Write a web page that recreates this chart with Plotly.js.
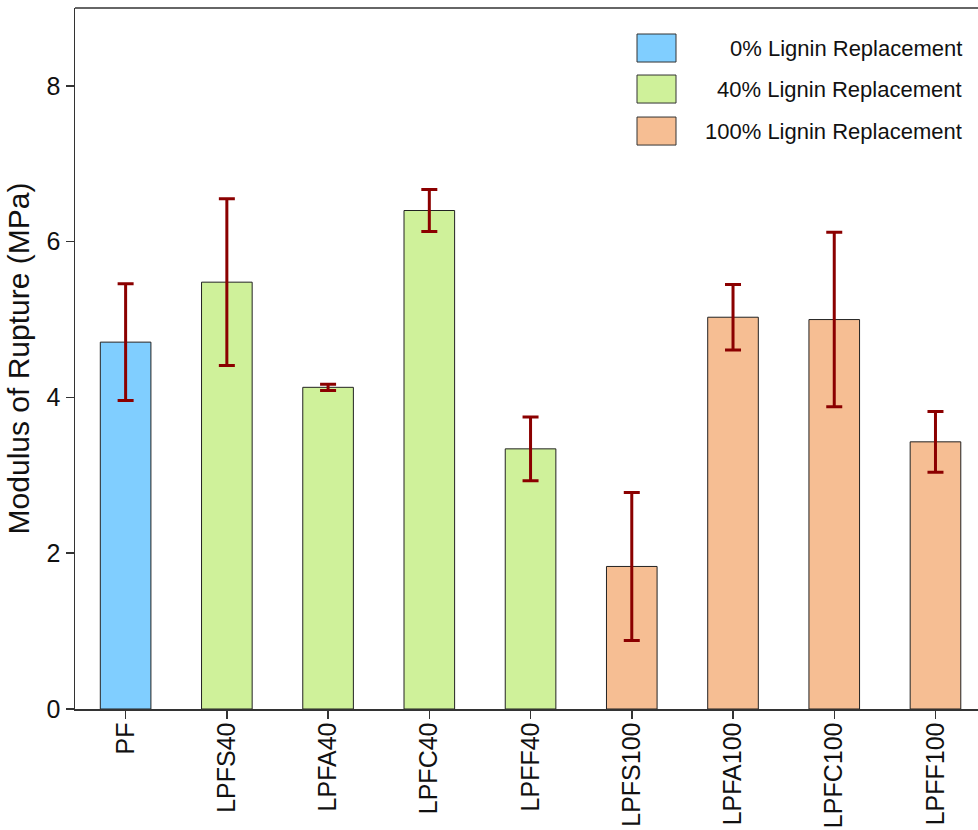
<!DOCTYPE html>
<html>
<head>
<meta charset="utf-8">
<script src="https://cdn.plot.ly/plotly-3.0.1.min.js"></script>
<style>html,body{margin:0;padding:0;background:#fff;}#chart{width:978px;height:830px;}</style>
</head>
<body>
<div id="chart"></div>
<script>
// Data
const categories = ["PF","LPFS40","LPFA40","LPFC40","LPFF40","LPFS100","LPFA100","LPFC100","LPFF100"];
const groupNames = ["0% Lignin Replacement","40% Lignin Replacement","100% Lignin Replacement"];
const pfCats = ["PF"];
const pfValues = [4.71];
const pfErrors = [0.75];
const lig40Cats = ["LPFS40","LPFA40","LPFC40","LPFF40"];
const lig40Values = [5.48, 4.13, 6.40, 3.34];
const lig40Errors = [1.07, 0.04, 0.27, 0.41];
const lig100Cats = ["LPFS100","LPFA100","LPFC100","LPFF100"];
const lig100Values = [1.83, 5.03, 5.00, 3.43];
const lig100Errors = [0.95, 0.42, 1.12, 0.39];
const yTicks = [0, 2, 4, 6, 8];

const colors = ["#80CEFF", "#CFF19A", "#F6BE93"];
const font = "Liberation Sans, Arial, sans-serif";

function barTrace(x, y, err, color, name) {
  return {
    type: "bar", x: x, y: y, name: name, width: 0.5,
    marker: {color: color, line: {color: "#222", width: 1}},
    error_y: {type: "data", array: err, visible: true, color: "#8B0000", thickness: 3, width: 8},
    showlegend: false
  };
}

const traces = [
  barTrace(pfCats, pfValues, pfErrors, colors[0], groupNames[0]),
  barTrace(lig40Cats, lig40Values, lig40Errors, colors[1], groupNames[1]),
  barTrace(lig100Cats, lig100Values, lig100Errors, colors[2], groupNames[2])
];

// custom legend (boxes + right-aligned text)
const shapes = [];
const annotations = [];
const boxTops = [34, 75, 117];
const plotL = 75, plotW = 903, plotB = 708.7, plotH = 700.7;
function px2x(p){ return (p - plotL) / plotW; }
function px2y(p){ return (plotB - p) / plotH; }
groupNames.forEach((g, i) => {
  const top = boxTops[i];
  shapes.push({type: "rect", xref: "paper", yref: "paper",
    x0: px2x(637), x1: px2x(676), y0: px2y(top + 28), y1: px2y(top),
    fillcolor: colors[i], line: {color: "#333", width: 1}});
  annotations.push({xref: "paper", yref: "paper", x: px2x(964), y: px2y(top + 14),
    xanchor: "right", yanchor: "middle", showarrow: false, text: g,
    font: {family: font, size: 22, color: "#111"}});
});

const layout = {
  width: 978, height: 830,
  margin: {l: 75, r: 0, t: 8, b: 121},
  paper_bgcolor: "#fff", plot_bgcolor: "#fff",
  barmode: "overlay",
  font: {family: font, color: "#111"},
  xaxis: {
    type: "category", categoryorder: "array", categoryarray: categories,
    range: [-0.5, 8.42],
    showline: true, linecolor: "#333", linewidth: 1.5, mirror: false,
    ticks: "outside", ticklen: 8, tickwidth: 1.5, tickcolor: "#333",
    tickangle: -90, tickfont: {family: font, size: 25, color: "#111"},
    ticklabelstandoff: -6,
    showgrid: false, zeroline: false
  },
  yaxis: {
    range: [0, 9], tickvals: yTicks,
    showline: true, linecolor: "#333", linewidth: 1.5,
    ticks: "outside", ticklen: 8, tickwidth: 1.5, tickcolor: "#333",
    tickfont: {family: font, size: 25, color: "#111"},
    showgrid: false, zeroline: false,
    title: {text: "Modulus of Rupture (MPa)", font: {family: font, size: 30, color: "#111"}, standoff: 8}
  },
  shapes: shapes.concat([
    {type: "line", xref: "paper", yref: "paper", x0: 0, x1: 1, y0: 1, y1: 1, line: {color: "#333", width: 1.5}}
  ]),
  annotations: annotations,
  showlegend: false
};

Plotly.newPlot("chart", traces, layout, {displayModeBar: false, staticPlot: true});
</script>
</body>
</html>
